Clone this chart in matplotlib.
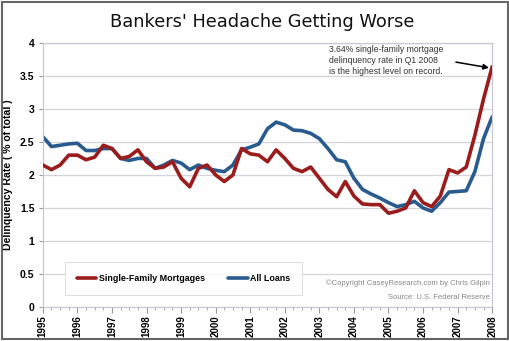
import numpy as np
import matplotlib
matplotlib.use("Agg")
import matplotlib.pyplot as plt
from matplotlib.patches import Rectangle

# quarterly, Q1 1995 .. Q1 2008
quarters = np.arange(1995, 2008.01, 0.25)

single_family = [2.15, 2.08, 2.15, 2.30, 2.30, 2.23, 2.27, 2.45, 2.40, 2.25,
                 2.28, 2.38, 2.20, 2.10, 2.12, 2.20, 1.95, 1.82, 2.10, 2.15,
                 2.00, 1.90, 2.00, 2.40, 2.32, 2.30, 2.20, 2.38, 2.25, 2.10,
                 2.05, 2.12, 1.95, 1.78, 1.67, 1.90, 1.68, 1.56, 1.55, 1.55,
                 1.42, 1.45, 1.50, 1.76, 1.58, 1.52, 1.68, 2.08, 2.03, 2.12,
                 2.60, 3.15, 3.64]

all_loans = [2.58, 2.43, 2.45, 2.47, 2.48, 2.37, 2.37, 2.40, 2.40, 2.25,
             2.22, 2.25, 2.25, 2.10, 2.15, 2.22, 2.18, 2.08, 2.15, 2.10,
             2.07, 2.05, 2.15, 2.38, 2.42, 2.47, 2.70, 2.80, 2.76, 2.68,
             2.67, 2.63, 2.55, 2.40, 2.23, 2.20, 1.95, 1.78, 1.71, 1.65,
             1.58, 1.52, 1.55, 1.60, 1.50, 1.45, 1.58, 1.74, 1.75, 1.76,
             2.05, 2.55, 2.88]

years = list(range(1995, 2009))
yticks = [0, 0.5, 1, 1.5, 2, 2.5, 3, 3.5, 4]
ytick_labels = ["0", "0.5", "1", "1.5", "2", "2.5", "3", "3.5", "4"]

red = "#9b1c1c"
blue = "#2a5b8f"
grid_col = "#d4d4da"
narrow = ["Liberation Sans Narrow", "Liberation Sans", "DejaVu Sans"]

fig = plt.figure(figsize=(5.1, 3.41), dpi=100)
ax = fig.add_axes([0.084, 0.1, 0.881, 0.774])

ax.plot(quarters, single_family, color=red, lw=2.6, label="Single-Family Mortgages",
        solid_capstyle="round", zorder=3)
ax.plot(quarters, all_loans, color=blue, lw=2.6, label="All Loans",
        solid_capstyle="round", zorder=2)

ax.set_xlim(1995, 2008)
ax.set_ylim(0, 4)
ax.set_yticks(yticks)
ax.set_yticklabels(ytick_labels, fontsize=7.5, fontweight="bold", family=narrow)
ax.set_xticks(years)
ax.set_xticklabels([str(y) for y in years], rotation=90, fontsize=7, fontweight="bold",
                   family=narrow)
ax.set_xticks(quarters, minor=True)
ax.tick_params(axis="x", which="major", length=4, color="#999999", pad=2)
ax.tick_params(axis="x", which="minor", length=2, color="#999999")
ax.tick_params(axis="y", length=3, color="#999999", pad=3)
ax.grid(axis="y", color=grid_col, lw=0.9)
ax.set_axisbelow(True)
for s in ax.spines.values():
    s.set_color("#c8c8d2")
    s.set_linewidth(0.9)

ax.set_ylabel("Delinquency Rate ( % of total )", fontsize=7.6, fontweight="bold",
              family=narrow, labelpad=5)

leg = ax.legend(loc="lower left", bbox_to_anchor=(0.04, 0.03), ncol=2,
                frameon=True, fancybox=False, handlelength=2.2, columnspacing=2.6,
                borderpad=1.3, handletextpad=0.3,
                prop={"weight": "bold", "size": 6.4, "family": narrow})
leg.get_frame().set_edgecolor("#d8d8de")
leg.get_frame().set_linewidth(0.8)

ax.text(0.995, 0.09, "\u00a9Copyright CaseyResearch.com by Chris Gilpin",
        transform=ax.transAxes, ha="right", va="center", fontsize=5.5, color="#888888",
        family=narrow)
ax.text(0.995, 0.036, "Source: U.S. Federal Reserve",
        transform=ax.transAxes, ha="right", va="center", fontsize=5.5, color="#888888",
        family=narrow)

ax.text(2003.28, 3.73, "3.64% single-family mortgage\ndelinquency rate in Q1 2008\nis the highest level on record.",
        fontsize=6.2, color="#333333", va="center", ha="left", linespacing=1.3,
        family=["Liberation Sans", "DejaVu Sans"])
ax.annotate("", xy=(2007.95, 3.62), xytext=(2006.95, 3.71),
            arrowprops=dict(arrowstyle="-|>", color="black", lw=1.1,
                            shrinkA=0, shrinkB=1, mutation_scale=8))

fig.text(0.515, 0.935, "Bankers' Headache Getting Worse", ha="center", va="center",
         fontsize=12.8, color="#111111")

fig.patches.append(Rectangle((0.004, 0.006), 0.992, 0.988, transform=fig.transFigure,
                             fill=False, edgecolor="#666666", lw=1.5))

fig.savefig("out.png", dpi=100)
